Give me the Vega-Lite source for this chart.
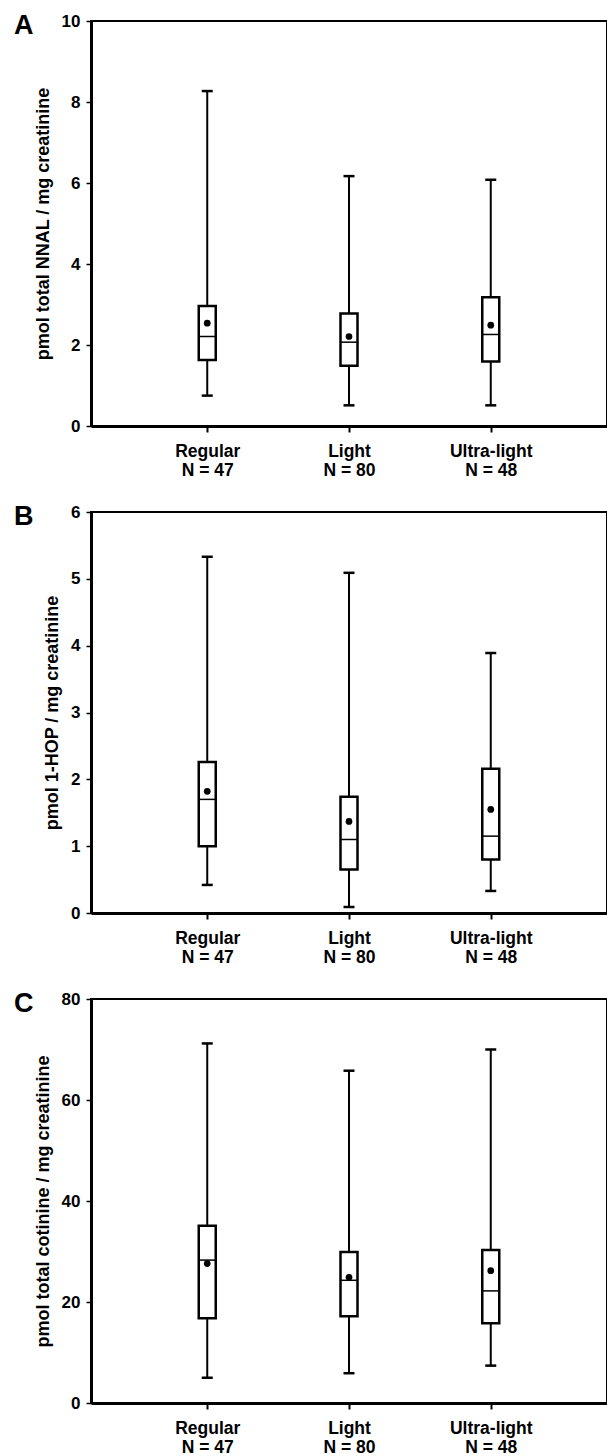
{
  "$schema": "https://vega.github.io/schema/vega-lite/v6.json",
  "background": "white",
  "padding": {"left": 13, "top": 11, "right": 0, "bottom": 0},
  "datasets": {
    "boxes": [
      {"panel": "A", "group": "Regular", "lower": 0.75, "q1": 1.63, "median": 2.21, "q3": 2.96, "upper": 8.27, "mean": 2.54},
      {"panel": "A", "group": "Light", "lower": 0.51, "q1": 1.49, "median": 2.07, "q3": 2.78, "upper": 6.17, "mean": 2.21},
      {"panel": "A", "group": "Ultra-light", "lower": 0.51, "q1": 1.59, "median": 2.26, "q3": 3.18, "upper": 6.08, "mean": 2.49},
      {"panel": "B", "group": "Regular", "lower": 0.42, "q1": 1.0, "median": 1.7, "q3": 2.26, "upper": 5.33, "mean": 1.82},
      {"panel": "B", "group": "Light", "lower": 0.09, "q1": 0.65, "median": 1.1, "q3": 1.74, "upper": 5.09, "mean": 1.37},
      {"panel": "B", "group": "Ultra-light", "lower": 0.33, "q1": 0.8, "median": 1.15, "q3": 2.16, "upper": 3.89, "mean": 1.55},
      {"panel": "C", "group": "Regular", "lower": 5.0, "q1": 16.8, "median": 28.3, "q3": 35.1, "upper": 71.2, "mean": 27.6},
      {"panel": "C", "group": "Light", "lower": 5.9, "q1": 17.2, "median": 24.3, "q3": 29.9, "upper": 65.8, "mean": 24.9},
      {"panel": "C", "group": "Ultra-light", "lower": 7.4, "q1": 15.8, "median": 22.2, "q3": 30.3, "upper": 70.0, "mean": 26.2}
    ]
  },
  "vconcat": [
    {
      "width": 516, "height": 405,
      "title": {"text": "A", "anchor": "start", "frame": "group", "fontSize": 27, "fontWeight": "bold", "dx": -77, "baseline": "top", "dy": 28, "offset": 0, "color": "black"},
      "data": {"name": "boxes"},
      "transform": [{"filter": "datum.panel === 'A'"}],
      "encoding": {
        "x": {"field": "group", "type": "nominal", "sort": ["Regular", "Light", "Ultra-light"], "scale": {"type": "point", "padding": 0.82},
          "axis": {"title": null, "labelAngle": 0, "labelExpr": "datum.value == 'Regular' ? ['Regular', 'N = 47'] : datum.value == 'Light' ? ['Light', 'N = 80'] : ['Ultra-light', 'N = 48']"}}
      },
      "layer": [
        {"mark": {"type": "rule", "strokeWidth": 2, "color": "black"},
         "encoding": {"y": {"field": "lower", "type": "quantitative", "title": "pmol total NNAL / mg creatinine", "scale": {"domain": [0, 10], "nice": false}, "axis": {"values": [0, 2, 4, 6, 8, 10], "format": "d"}}, "y2": {"field": "upper"}}},
        {"mark": {"type": "bar", "size": 17, "fill": "white", "stroke": "black", "strokeWidth": 2.5},
         "encoding": {"y": {"field": "q1", "type": "quantitative", "title": "pmol total NNAL / mg creatinine"}, "y2": {"field": "q3"}}},
        {"mark": {"type": "tick", "size": 17, "thickness": 1.5, "color": "black", "opacity": 1},
         "encoding": {"y": {"field": "median", "type": "quantitative", "title": "pmol total NNAL / mg creatinine"}}},
        {"mark": {"type": "tick", "size": 11, "thickness": 2.5, "color": "black", "opacity": 1},
         "encoding": {"y": {"field": "lower", "type": "quantitative", "title": "pmol total NNAL / mg creatinine"}}},
        {"mark": {"type": "tick", "size": 11, "thickness": 2.5, "color": "black", "opacity": 1},
         "encoding": {"y": {"field": "upper", "type": "quantitative", "title": "pmol total NNAL / mg creatinine"}}},
        {"mark": {"type": "point", "filled": true, "size": 45, "color": "black", "opacity": 1},
         "encoding": {"y": {"field": "mean", "type": "quantitative", "title": "pmol total NNAL / mg creatinine"}}}
      ]
    },
    {
      "width": 516, "height": 401,
      "title": {"text": "B", "anchor": "start", "frame": "group", "fontSize": 27, "fontWeight": "bold", "dx": -77, "baseline": "top", "dy": 28, "offset": 0, "color": "black"},
      "data": {"name": "boxes"},
      "transform": [{"filter": "datum.panel === 'B'"}],
      "encoding": {
        "x": {"field": "group", "type": "nominal", "sort": ["Regular", "Light", "Ultra-light"], "scale": {"type": "point", "padding": 0.82},
          "axis": {"title": null, "labelAngle": 0, "labelExpr": "datum.value == 'Regular' ? ['Regular', 'N = 47'] : datum.value == 'Light' ? ['Light', 'N = 80'] : ['Ultra-light', 'N = 48']"}}
      },
      "layer": [
        {"mark": {"type": "rule", "strokeWidth": 2, "color": "black"},
         "encoding": {"y": {"field": "lower", "type": "quantitative", "title": "pmol 1-HOP / mg creatinine", "scale": {"domain": [0, 6], "nice": false}, "axis": {"values": [0, 1, 2, 3, 4, 5, 6], "format": "d"}}, "y2": {"field": "upper"}}},
        {"mark": {"type": "bar", "size": 17, "fill": "white", "stroke": "black", "strokeWidth": 2.5},
         "encoding": {"y": {"field": "q1", "type": "quantitative", "title": "pmol 1-HOP / mg creatinine"}, "y2": {"field": "q3"}}},
        {"mark": {"type": "tick", "size": 17, "thickness": 1.5, "color": "black", "opacity": 1},
         "encoding": {"y": {"field": "median", "type": "quantitative", "title": "pmol 1-HOP / mg creatinine"}}},
        {"mark": {"type": "tick", "size": 11, "thickness": 2.5, "color": "black", "opacity": 1},
         "encoding": {"y": {"field": "lower", "type": "quantitative", "title": "pmol 1-HOP / mg creatinine"}}},
        {"mark": {"type": "tick", "size": 11, "thickness": 2.5, "color": "black", "opacity": 1},
         "encoding": {"y": {"field": "upper", "type": "quantitative", "title": "pmol 1-HOP / mg creatinine"}}},
        {"mark": {"type": "point", "filled": true, "size": 45, "color": "black", "opacity": 1},
         "encoding": {"y": {"field": "mean", "type": "quantitative", "title": "pmol 1-HOP / mg creatinine"}}}
      ]
    },
    {
      "width": 516, "height": 404,
      "title": {"text": "C", "anchor": "start", "frame": "group", "fontSize": 27, "fontWeight": "bold", "dx": -77, "baseline": "top", "dy": 28, "offset": 0, "color": "black"},
      "data": {"name": "boxes"},
      "transform": [{"filter": "datum.panel === 'C'"}],
      "encoding": {
        "x": {"field": "group", "type": "nominal", "sort": ["Regular", "Light", "Ultra-light"], "scale": {"type": "point", "padding": 0.82},
          "axis": {"title": null, "labelAngle": 0, "labelExpr": "datum.value == 'Regular' ? ['Regular', 'N = 47'] : datum.value == 'Light' ? ['Light', 'N = 80'] : ['Ultra-light', 'N = 48']"}}
      },
      "layer": [
        {"mark": {"type": "rule", "strokeWidth": 2, "color": "black"},
         "encoding": {"y": {"field": "lower", "type": "quantitative", "title": "pmol total cotinine / mg creatinine", "scale": {"domain": [0, 80], "nice": false}, "axis": {"values": [0, 20, 40, 60, 80], "format": "d"}}, "y2": {"field": "upper"}}},
        {"mark": {"type": "bar", "size": 17, "fill": "white", "stroke": "black", "strokeWidth": 2.5},
         "encoding": {"y": {"field": "q1", "type": "quantitative", "title": "pmol total cotinine / mg creatinine"}, "y2": {"field": "q3"}}},
        {"mark": {"type": "tick", "size": 17, "thickness": 1.5, "color": "black", "opacity": 1},
         "encoding": {"y": {"field": "median", "type": "quantitative", "title": "pmol total cotinine / mg creatinine"}}},
        {"mark": {"type": "tick", "size": 11, "thickness": 2.5, "color": "black", "opacity": 1},
         "encoding": {"y": {"field": "lower", "type": "quantitative", "title": "pmol total cotinine / mg creatinine"}}},
        {"mark": {"type": "tick", "size": 11, "thickness": 2.5, "color": "black", "opacity": 1},
         "encoding": {"y": {"field": "upper", "type": "quantitative", "title": "pmol total cotinine / mg creatinine"}}},
        {"mark": {"type": "point", "filled": true, "size": 45, "color": "black", "opacity": 1},
         "encoding": {"y": {"field": "mean", "type": "quantitative", "title": "pmol total cotinine / mg creatinine"}}}
      ]
    }
  ],
  "bounds": "flush",
  "spacing": 86,
  "config": {
    "font": "Liberation Sans",
    "view": {"stroke": "black", "strokeWidth": 2},
    "axis": {
      "grid": false,
      "domainColor": "black", "domainWidth": 3,
      "tickColor": "black", "tickWidth": 1.5,
      "labelColor": "black", "labelFontSize": 17, "labelFontWeight": "bold", "labelFont": "Liberation Sans",
      "titleColor": "black", "titleFontSize": 18, "titleFontWeight": "bold", "titleFont": "Liberation Sans"
    },
    "axisX": {"tickSize": 6, "labelPadding": 10, "labelLineHeight": 19, "labelFontSize": 17.5, "tickWidth": 2},
    "axisY": {"tickSize": 5, "labelPadding": 6, "titlePadding": 9}
  }
}
